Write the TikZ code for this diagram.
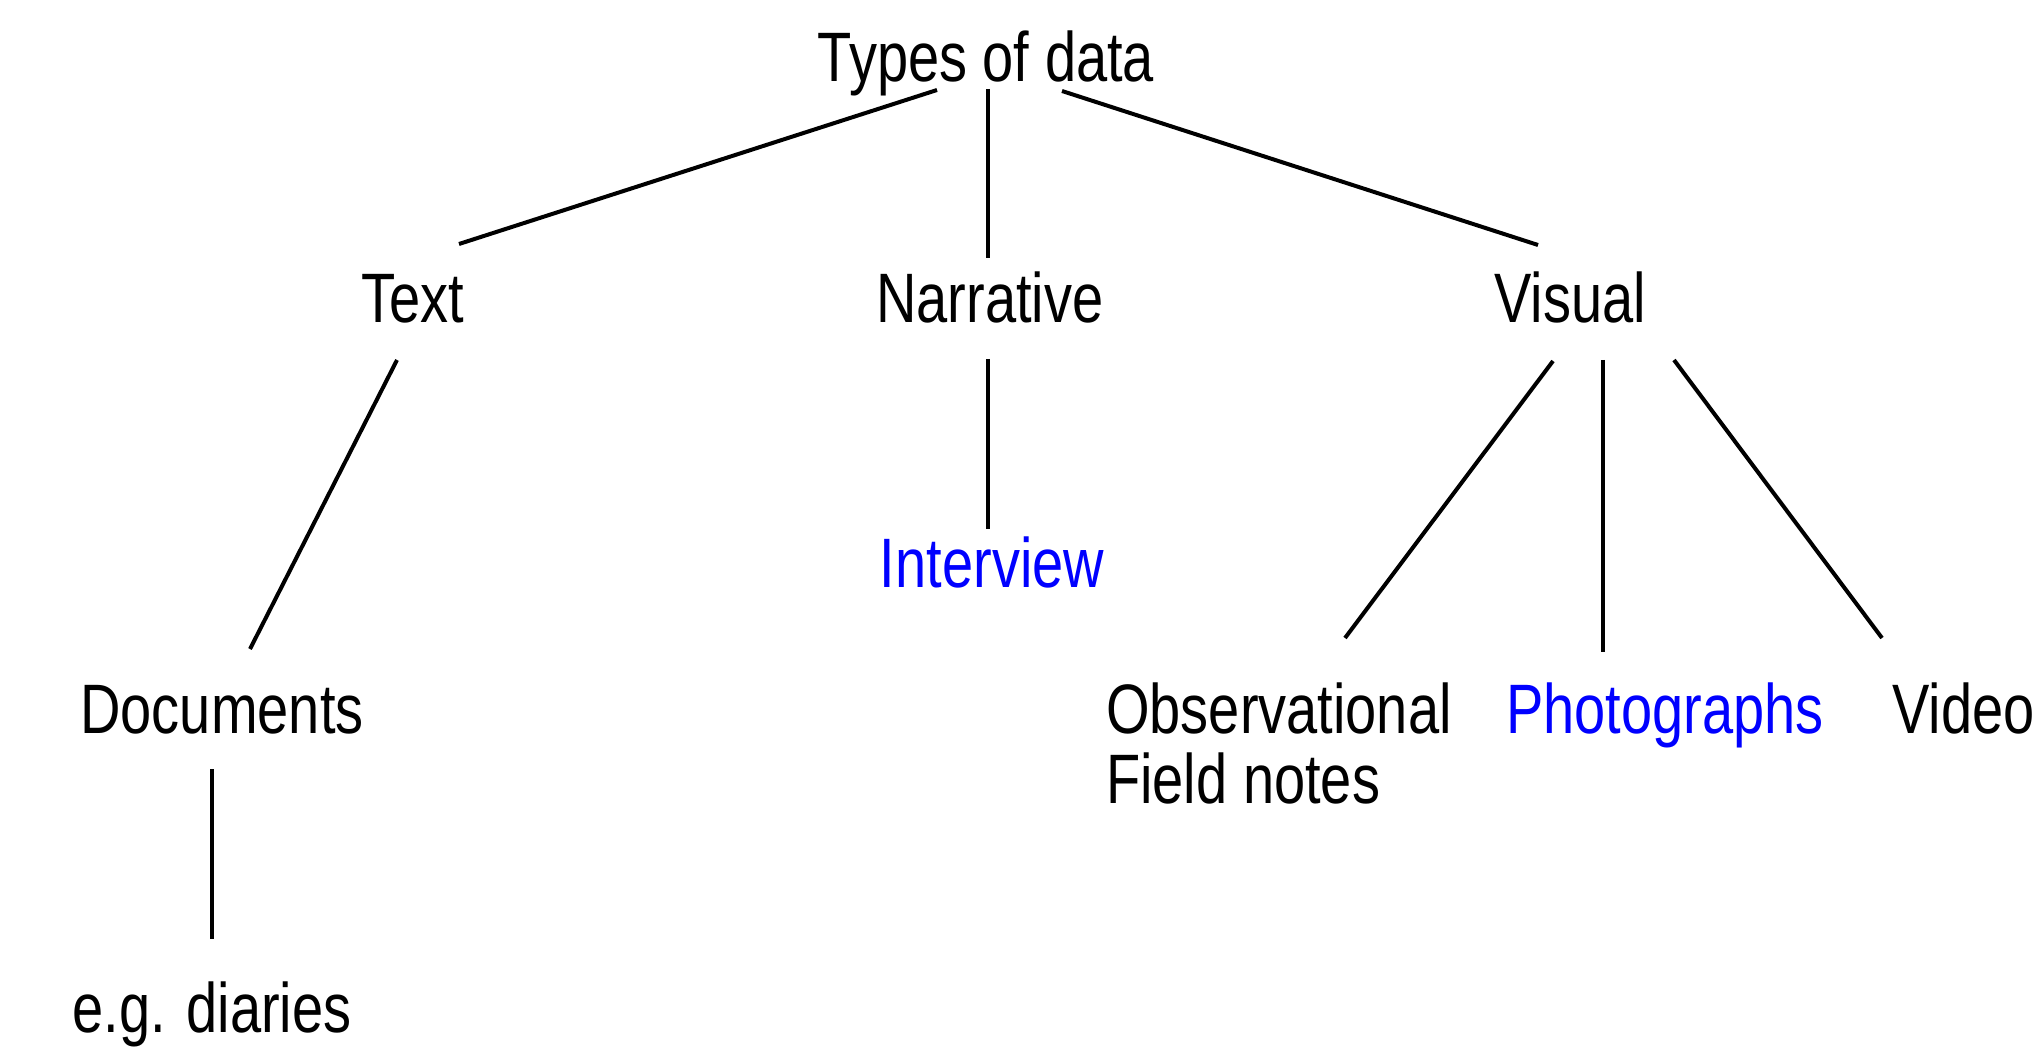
\documentclass[tikz,border=0pt]{standalone}
\usepackage{fontspec}
\setmainfont{Liberation Sans}[FakeStretch=0.8]
\definecolor{linkblue}{RGB}{0,0,255}
\begin{document}
\begin{tikzpicture}[x=1pt,y=-1pt,
  lbl/.style={inner sep=0pt, font=\fontsize{70}{70}\selectfont, text=black},
  lnk/.style={lbl, text=linkblue},
  edge/.style={draw=black, line width=4pt}]
\useasboundingbox[fill=white] (0,0) rectangle (2040,1048);

% nodes
\node[lbl, anchor=base] (types) at (986,82) {Types of data};
\node[lbl, anchor=base] (text) at (412.5,323) {Text};
\node[lbl, anchor=base] (narr) at (990,323) {Narrative};
\node[lbl, anchor=base] (visual) at (1570,323) {Visual};
\node[lnk, anchor=base] (interview) at (992,587) {Interview};
\node[lbl, anchor=base] (docs) at (222,733) {Documents};
\node[lbl, anchor=base] (diaries) at (212,1032) {e.g. diaries};
\node[lbl, anchor=base west, align=left] (obs) at (1106,803) {Observational\\Field notes};
\node[lnk, anchor=base] (photo) at (1665,733) {Photographs};
\node[lbl, anchor=base] (video) at (1963.5,733) {Video};

% connectors
\draw[edge] ([shift={(-49,8)}]types.base) -- ([shift={(46.5,-79)}]text.base);
\draw[edge] ([shift={(2,7)}]types.base) -- ([shift={(-2,-65)}]narr.base);
\draw[edge] ([shift={(76,9)}]types.base) -- ([shift={(-32,-78)}]visual.base);
\draw[edge] ([shift={(-15.5,37)}]text.base) -- ([shift={(28,-84)}]docs.base);
\draw[edge] ([shift={(-2,36)}]narr.base) -- ([shift={(-4,-58)}]interview.base);
\draw[edge] ([shift={(-17,38)}]visual.base) -- ([shift={(239,-165)}]obs.base west);
\draw[edge] ([shift={(33,37)}]visual.base) -- ([shift={(-62,-81)}]photo.base);
\draw[edge] ([shift={(104,37)}]visual.base) -- ([shift={(-81.5,-95)}]video.base);
\draw[edge] ([shift={(-10,36)}]docs.base) -- ([shift={(0,-93)}]diaries.base);
\end{tikzpicture}
\end{document}
